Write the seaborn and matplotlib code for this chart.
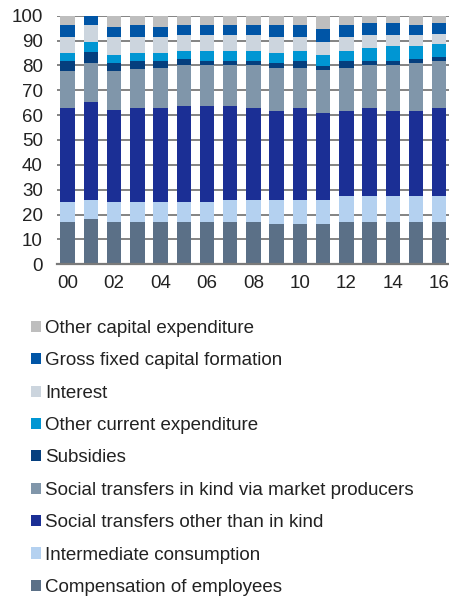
import numpy as np
import pandas as pd
import seaborn as sns
import matplotlib.pyplot as plt
from matplotlib.patches import Patch

# shares of total expenditure, % (2000-2016)
years = [f"{y:02d}" for y in range(17)]
compensation = [17.1, 18.2, 17.1, 17.1, 17.1, 17.1, 17.1, 17.1, 17.1, 16.3, 16.3, 16.3, 17.1, 17.1, 17.1, 17.1, 17.1]
intermediate = [8.1, 7.8, 8.1, 8.1, 8.1, 8.1, 8.1, 8.9, 8.9, 9.7, 9.7, 9.7, 10.5, 10.5, 10.5, 10.5, 10.5]
transfers_other = [37.8, 39.4, 36.9, 37.8, 37.8, 38.5, 38.5, 37.7, 36.7, 35.8, 36.7, 34.9, 34.2, 35.1, 34.2, 34.2, 35.1]
transfers_kind = [14.6, 15.5, 15.5, 15.4, 16.1, 16.3, 16.3, 16.3, 17.3, 17.3, 16.4, 17.4, 17.3, 17.3, 18.2, 19.0, 19.1]
subsidies = [4.0, 4.4, 3.2, 3.2, 2.5, 2.6, 1.6, 1.6, 1.6, 1.7, 2.5, 1.6, 2.5, 1.6, 1.6, 1.8, 1.6]
other_current = [3.5, 4.3, 3.4, 3.5, 3.5, 3.3, 4.3, 4.3, 4.3, 4.3, 4.3, 4.3, 4.3, 5.3, 6.2, 5.2, 5.2]
interest = [6.2, 6.7, 7.1, 6.2, 6.2, 6.2, 6.2, 6.2, 6.2, 6.2, 5.4, 5.2, 5.4, 5.2, 4.3, 4.3, 4.2]
gfcf = [5.0, 3.7, 4.3, 5.0, 4.3, 4.2, 4.2, 4.2, 4.2, 5.0, 5.0, 5.1, 5.0, 4.8, 4.8, 4.2, 4.1]
other_capital = [3.7, 0.0, 4.4, 3.7, 4.4, 3.7, 3.7, 3.7, 3.7, 3.7, 3.7, 5.5, 3.7, 3.1, 3.1, 3.7, 3.1]

# bottom to top
series = [
    ("Compensation of employees", compensation, "#5b7087"),
    ("Intermediate consumption", intermediate, "#b4d1f0"),
    ("Social transfers other than in kind", transfers_other, "#1b2f95"),
    ("Social transfers in kind via market producers", transfers_kind, "#8096aa"),
    ("Subsidies", subsidies, "#053f7e"),
    ("Other current expenditure", other_current, "#0096d3"),
    ("Interest", interest, "#ccd5de"),
    ("Gross fixed capital formation", gfcf, "#0055a6"),
    ("Other capital expenditure", other_capital, "#bebebe"),
]

df = pd.DataFrame({name: vals for name, vals, _ in series}, index=years)
cum = df.cumsum(axis=1)

sns.set_style("white")
plt.rcParams['font.family'] = ['Liberation Sans', 'DejaVu Sans']
txt = "#222222"

fig, ax = plt.subplots(figsize=(4.49, 5.97), dpi=100)
fig.subplots_adjust(left=0.128, right=1.0, top=0.9737, bottom=0.5573)

# draw tallest cumulative first, then overlay the lower ones
for name, _, col in reversed(series):
    d = pd.DataFrame({"year": years, "val": cum[name].values})
    sns.barplot(data=d, x="year", y="val", order=years, color=col,
                saturation=1, width=0.62, linewidth=0, ax=ax)

ax.set_ylim(0, 100)
ax.set_xlim(-0.44, 16.42)
ax.set_yticks(range(0, 101, 10))
ax.set_xticks(range(0, 17, 2))
ax.set_xticklabels(years[::2])
ax.set_xlabel("")
ax.set_ylabel("")
ax.set_axisbelow(True)
ax.yaxis.grid(True, color="#7a7a7a", linewidth=1.3)
for s in ["top", "right", "left"]:
    ax.spines[s].set_visible(False)
ax.spines["bottom"].set_color("#7a7a7a")
ax.spines["bottom"].set_linewidth(1.6)
ax.tick_params(axis="y", length=0, pad=10.5, labelsize=13.5, labelcolor=txt)
ax.tick_params(axis="x", length=0, pad=7.5, labelsize=13.5, labelcolor=txt)

handles = [Patch(facecolor=col, edgecolor="none", label=name) for name, _, col in reversed(series)]
fig.legend(handles=handles, loc="upper left", bbox_to_anchor=(0.069, 0.464),
           frameon=False, fontsize=13.5, handlelength=0.53, handleheight=0.53,
           handletextpad=0.21, labelspacing=0.82, borderpad=0, borderaxespad=0,
           labelcolor=txt)

fig.savefig("out.png", dpi=100)
